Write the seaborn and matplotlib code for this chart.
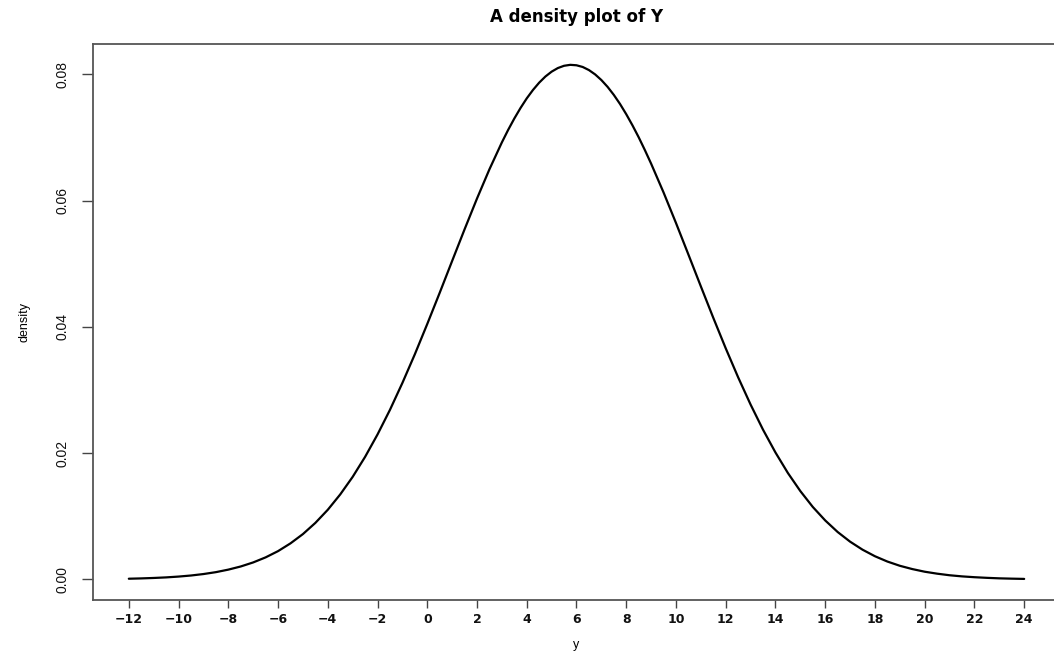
import numpy as np
import pandas as pd
import matplotlib
matplotlib.use("Agg")
import matplotlib.pyplot as plt
import seaborn as sns

# Values (y vs density); finer steps near the peak
y_values = [-12.0, -11.5, -11.0, -10.5, -10.0, -9.5, -9.0, -8.5, -8.0, -7.5,
            -7.0, -6.5, -6.0, -5.5, -5.0, -4.5, -4.0, -3.5, -3.0, -2.5,
            -2.0, -1.5, -1.0, -0.5, 0.0, 0.5, 1.0, 1.5, 2.0, 2.5,
            3.0, 3.25, 3.5, 3.75, 4.0, 4.25, 4.5, 4.75, 5.0, 5.25,
            5.5, 5.75, 6.0, 6.25, 6.5, 6.75, 7.0, 7.25, 7.5, 7.75,
            8.0, 8.25, 8.5, 8.75, 9.0, 9.5, 10.0, 10.5, 11.0, 11.5,
            12.0, 12.5, 13.0, 13.5, 14.0, 14.5, 15.0, 15.5, 16.0, 16.5,
            17.0, 17.5, 18.0, 18.5, 19.0, 19.5, 20.0, 20.5, 21.0, 21.5,
            22.0, 22.5, 23.0, 23.5, 24.0]
density_values = [0.00011, 0.00016, 0.00023, 0.00032, 0.00045, 0.00062, 0.00085, 0.00115, 0.00155, 0.00205,
                  0.00269, 0.00349, 0.00448, 0.00571, 0.00718, 0.00895, 0.01103, 0.01346, 0.01624, 0.01941,
                  0.02296, 0.02686, 0.03112, 0.03566, 0.04046, 0.04540, 0.05044, 0.05545, 0.06033, 0.06496,
                  0.06922, 0.07118, 0.07300, 0.07467, 0.07619, 0.07752, 0.07868, 0.07965, 0.08042, 0.08099,
                  0.08135, 0.08150, 0.08143, 0.08116, 0.08067, 0.07998, 0.07909, 0.07801, 0.07674, 0.07530,
                  0.07368, 0.07192, 0.07003, 0.06799, 0.06585, 0.06129, 0.05645, 0.05145, 0.04641, 0.04143,
                  0.03660, 0.03200, 0.02769, 0.02371, 0.02010, 0.01685, 0.01399, 0.01148, 0.00934, 0.00751,
                  0.00598, 0.00471, 0.00367, 0.00283, 0.00216, 0.00164, 0.00122, 0.00091, 0.00066, 0.00048,
                  0.00035, 0.00025, 0.00017, 0.00012, 0.00008]

x_ticks = list(range(-12, 25, 2))
y_ticks = [0.00, 0.02, 0.04, 0.06, 0.08]
y_tick_labels = ["0.00", "0.02", "0.04", "0.06", "0.08"]

title_text = "A density plot of Y"
x_label = "y"
y_label = "density"

df = pd.DataFrame({"y": y_values, "density": density_values})

sns.set_style("white")
plt.rcParams["font.family"] = ["Liberation Sans", "DejaVu Sans"]
plt.rcParams["text.color"] = "black"
plt.rcParams["axes.labelcolor"] = "black"

fig = plt.figure(figsize=(10.54, 6.55), dpi=100)
ax = fig.add_axes([93 / 1054, 55 / 655, (1060 - 93) / 1054, (600 - 44) / 655])

sns.lineplot(data=df, x="y", y="density", color="black", linewidth=1.6, ax=ax)

ax.set_xlim(-13.44, 25.44)
ax.set_ylim(-0.00326, 0.0848)

ax.set_xticks(x_ticks)
ax.set_xticklabels([str(t).replace("-", "\u2212") for t in x_ticks],
                   fontsize=9, family="DejaVu Sans", fontweight="bold", color="#111111")
ax.set_yticks(y_ticks)
ax.set_yticklabels(y_tick_labels, rotation=90, va="center", fontsize=10,
                   color="#111111")

ax.tick_params(axis="x", direction="out", length=5.5, width=1.0, color="#444444", pad=4, bottom=True)
ax.tick_params(axis="y", direction="out", length=8, width=1.0, color="#444444", pad=9, left=True)

for side in ["left", "bottom", "top", "right"]:
    ax.spines[side].set_visible(True)
    ax.spines[side].set_color("#555555")
    ax.spines[side].set_linewidth(1.3)

ax.set_xlabel(x_label, fontsize=9, labelpad=9, color="black")
ax.set_ylabel(y_label, fontsize=9, labelpad=18, color="black")
ax.set_title(title_text, fontsize=12, fontweight="bold", family="DejaVu Sans",
             pad=16, color="black")

fig.savefig("out.png", dpi=100)
